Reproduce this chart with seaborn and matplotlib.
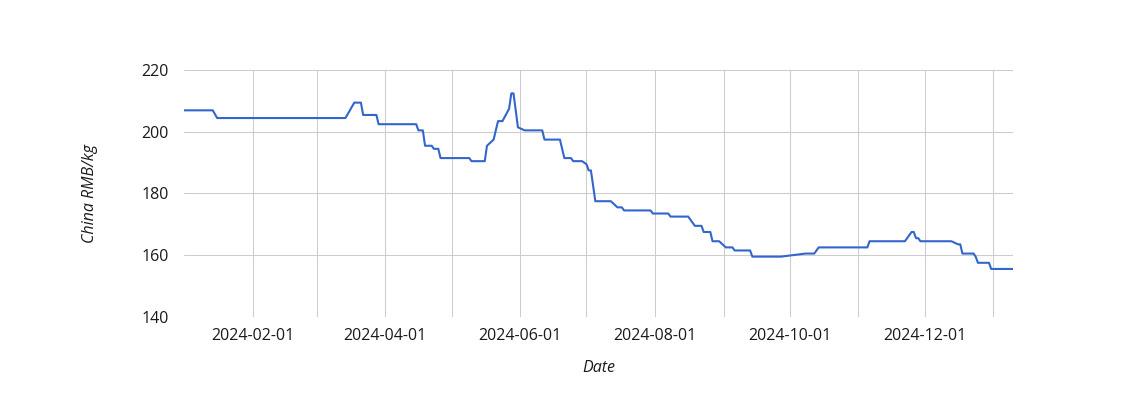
import pandas as pd
import matplotlib.pyplot as plt
import matplotlib.dates as mdates
import matplotlib.ticker as mticker
import seaborn as sns

plt.switch_backend('Agg')

# Price change points (date, China RMB/kg)
dates = [
    "2024-01-01", "2024-01-14", "2024-01-16", "2024-03-14", "2024-03-18", "2024-03-21",
    "2024-03-22", "2024-03-28", "2024-03-29", "2024-04-15", "2024-04-16", "2024-04-18",
    "2024-04-19", "2024-04-22", "2024-04-23", "2024-04-25", "2024-04-26", "2024-05-09",
    "2024-05-10", "2024-05-16", "2024-05-17", "2024-05-20", "2024-05-22", "2024-05-24",
    "2024-05-27", "2024-05-28", "2024-05-29", "2024-05-31", "2024-06-03", "2024-06-11",
    "2024-06-12", "2024-06-19", "2024-06-21", "2024-06-24", "2024-06-25", "2024-06-29",
    "2024-07-01", "2024-07-02", "2024-07-03", "2024-07-05", "2024-07-12", "2024-07-15",
    "2024-07-17", "2024-07-18", "2024-07-30", "2024-07-31", "2024-08-07", "2024-08-08",
    "2024-08-16", "2024-08-19", "2024-08-22", "2024-08-23", "2024-08-26", "2024-08-27",
    "2024-08-30", "2024-09-02", "2024-09-05", "2024-09-06", "2024-09-13", "2024-09-14",
    "2024-09-27", "2024-10-08", "2024-10-12", "2024-10-14", "2024-11-05", "2024-11-06",
    "2024-11-22", "2024-11-25", "2024-11-26", "2024-11-27", "2024-11-28", "2024-11-29",
    "2024-12-13", "2024-12-16", "2024-12-17", "2024-12-18", "2024-12-23", "2024-12-24",
    "2024-12-25", "2024-12-30", "2024-12-31", "2025-01-10",
]
prices = [
    207.0, 207.0, 204.5, 204.5, 209.5, 209.5,
    205.5, 205.5, 202.5, 202.5, 200.5, 200.5,
    195.5, 195.5, 194.5, 194.5, 191.5, 191.5,
    190.5, 190.5, 195.5, 197.5, 203.5, 203.5,
    207.5, 212.5, 212.5, 201.5, 200.5, 200.5,
    197.5, 197.5, 191.5, 191.5, 190.5, 190.5,
    189.5, 187.5, 187.5, 177.5, 177.5, 175.5,
    175.5, 174.5, 174.5, 173.5, 173.5, 172.5,
    172.5, 169.5, 169.5, 167.5, 167.5, 164.5,
    164.5, 162.5, 162.5, 161.5, 161.5, 159.5,
    159.5, 160.5, 160.5, 162.5, 162.5, 164.5,
    164.5, 167.5, 167.5, 165.5, 165.5, 164.5,
    164.5, 163.5, 163.5, 160.5, 160.5, 159.5,
    157.5, 157.5, 155.5, 155.5,
]
y_ticks = [140, 160, 180, 200, 220]
# month gridlines (the one at the left edge is not drawn)
grid_months = pd.date_range("2024-02-01", "2025-01-01", freq="MS")

df = pd.DataFrame({"Date": pd.to_datetime(dates), "Price": prices})

sns.set_style("white")
plt.rcParams['font.family'] = ['Open Sans', 'DejaVu Sans']

fig = plt.figure(figsize=(11.4, 4.0), dpi=100)
ax = fig.add_axes([184 / 1140, 1 - 316.7 / 400, (1013.3 - 184) / 1140, (316.7 - 70.3) / 400])

sns.lineplot(data=df, x="Date", y="Price", ax=ax, color="#3366CC", linewidth=1.5)

ax.set_xlim(df["Date"].min(), df["Date"].max())
ax.set_ylim(140, 220)
ax.set_yticks(y_ticks)

# labels every other month, gridlines every month
ax.xaxis.set_major_locator(mdates.MonthLocator(bymonth=[2, 4, 6, 8, 10, 12]))
ax.xaxis.set_major_formatter(mdates.DateFormatter("%Y-%m-%d"))
ax.xaxis.set_minor_locator(mticker.FixedLocator(mdates.date2num(grid_months)))
ax.grid(True, which="both", color="#cccccc", linewidth=0.75)
ax.set_axisbelow(True)

for s in ax.spines.values():
    s.set_visible(False)
ax.tick_params(axis="both", which="both", length=0, labelsize=11.5, colors="#1a1a1a")
ax.tick_params(axis="x", pad=8)
ax.tick_params(axis="y", pad=11)

ax.set_xlabel("Date", fontstyle="italic", fontsize=11.5, color="#1a1a1a", labelpad=12)
ax.set_ylabel("China RMB/kg", fontstyle="italic", fontsize=11.5, color="#1a1a1a", labelpad=31)

fig.savefig("out.png", dpi=100)
plt.close('all')
